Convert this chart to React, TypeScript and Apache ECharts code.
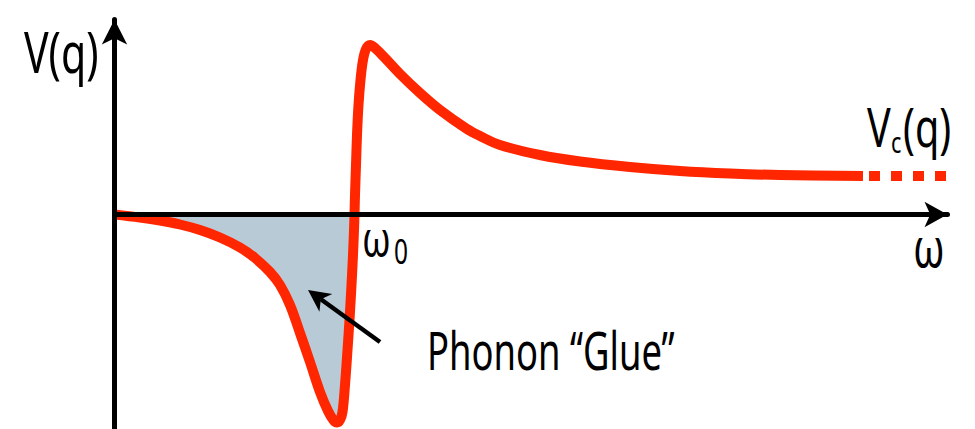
import React, { useEffect, useRef } from "react";
import * as echarts from "echarts";

// Interaction potential V(q) against frequency ω (arbitrary units).
const omega = [
  0.0, 0.255, 0.455, 0.655, 0.855, 1.055, 1.255, 1.405, 1.555, 1.655, 1.755, 1.855,
  1.955, 2.055, 2.135, 2.195, 2.225, 2.255, 2.28, 2.305, 2.33, 2.35, 2.37, 2.385, 2.395,
  2.4, 2.405, 2.415, 2.425, 2.44, 2.46, 2.485, 2.515, 2.555, 2.605, 2.705, 2.855,
  3.055, 3.255, 3.525, 3.655, 3.855, 4.255, 4.655, 5.155, 5.655, 6.155, 6.655, 7.485,
];
const potential = [
  0.0, -0.03, -0.06, -0.1, -0.155, -0.23, -0.33, -0.435, -0.575, -0.705, -0.905, -1.185,
  -1.475, -1.775, -1.965, -2.065, -2.08, -2.055, -1.975, -1.705, -1.355, -1.055, -0.705, -0.405, -0.155,
  0.0, 0.195, 0.495, 0.795, 1.095, 1.345, 1.545, 1.655, 1.695, 1.665, 1.565, 1.405,
  1.215, 1.045, 0.855, 0.785, 0.695, 0.595, 0.53, 0.475, 0.435, 0.41, 0.395, 0.385,
];
// Resonance frequency where the potential changes sign.
const omega0 = 2.4;
// Coulomb limit reached at high frequency (dotted continuation).
const coulombOmega = [7.545, 8.315];
const coulombV = [0.385, 0.385];

const axisRange = { xMin: 0, xMax: 8.33, yMin: -2.145, yMax: 1.95 };

const RED = "#ff2600";
const GLUE = "#b9cad7";
const FONT = "'Noto Sans', sans-serif";

const curve = omega.map((w, i) => [w, potential[i]]);
const glue = curve.filter(([w]) => w <= omega0);
const coulomb = coulombOmega.map((w, i) => [w, coulombV[i]]);

function label(text: string, x: number, y: number, size: number, scaleX = 0.72) {
  return {
    type: "text",
    x,
    y,
    scaleX,
    z: 20,
    style: {
      text,
      fill: "#000",
      font: `${size}px ${FONT}`,
      textAlign: "left",
      textVerticalAlign: "middle",
    },
  };
}

export default function App() {
  const ref = useRef<HTMLDivElement>(null);

  useEffect(() => {
    document.body.style.margin = "0";
    if (!ref.current) return;
    const chart = echarts.init(ref.current, undefined, { renderer: "svg" });

    // Annotation arrow pointing into the shaded region.
    const tip = [308, 290];
    const tail = [380, 342];
    const dx = tip[0] - tail[0];
    const dy = tip[1] - tail[1];
    const len = Math.hypot(dx, dy);
    const ux = dx / len;
    const uy = dy / len;
    const px = -uy;
    const py = ux;
    const headLen = 22;
    const headHalf = 11;
    const base = [tip[0] - ux * headLen, tip[1] - uy * headLen];
    const notch = [tip[0] - ux * headLen * 0.72, tip[1] - uy * headLen * 0.72];

    const hiddenAxis = {
      axisTick: { show: false },
      axisLabel: { show: false },
      splitLine: { show: false },
    };

    chart.setOption({
      animation: false,
      grid: { left: 114.5, right: 27.5, top: 19.5, bottom: 0 },
      xAxis: {
        type: "value",
        min: axisRange.xMin,
        max: axisRange.xMax,
        z: 10,
        axisLine: {
          show: true,
          onZero: true,
          symbol: ["none", "arrow"],
          symbolSize: [19, 23],
          lineStyle: { color: "#000", width: 5 },
        },
        ...hiddenAxis,
      },
      yAxis: {
        type: "value",
        min: axisRange.yMin,
        max: axisRange.yMax,
        z: 10,
        axisLine: {
          show: true,
          onZero: false,
          symbol: ["none", "arrow"],
          symbolSize: [19, 25],
          lineStyle: { color: "#000", width: 5 },
        },
        ...hiddenAxis,
      },
      series: [
        {
          type: "line",
          data: glue,
          smooth: 0.35,
          symbol: "none",
          z: 1,
          lineStyle: { width: 0 },
          areaStyle: { color: GLUE, opacity: 1, origin: 0 },
        },
        {
          type: "line",
          data: curve,
          smooth: 0.35,
          symbol: "none",
          z: 2,
          lineStyle: { color: RED, width: 10, cap: "butt", join: "round" },
        },
        {
          type: "line",
          data: coulomb,
          symbol: "none",
          z: 2,
          lineStyle: { color: RED, width: 10, type: [11, 11], cap: "butt" },
        },
      ],
      graphic: [
        label("V(q)", 24, 50.9, 57),
        label("V", 867, 125.7, 55),
        label("c", 891, 141.4, 30),
        label("(q)", 903, 125.7, 55),
        label("ω", 913, 245.7, 55),
        label("ω", 362, 237.6, 50),
        label("0", 394, 250.8, 34),
        label("Phonon “Glue”", 427, 349.8, 52, 0.7),
        {
          type: "line",
          z: 20,
          shape: { x1: tail[0], y1: tail[1], x2: notch[0], y2: notch[1] },
          style: { stroke: "#000", lineWidth: 4.5 },
        },
        {
          type: "polygon",
          z: 20,
          shape: {
            points: [
              tip,
              [base[0] + px * headHalf, base[1] + py * headHalf],
              notch,
              [base[0] - px * headHalf, base[1] - py * headHalf],
            ],
          },
          style: { fill: "#000" },
        },
      ],
    });

    return () => chart.dispose();
  }, []);

  return <div ref={ref} style={{ width: 975, height: 429 }} />;
}
